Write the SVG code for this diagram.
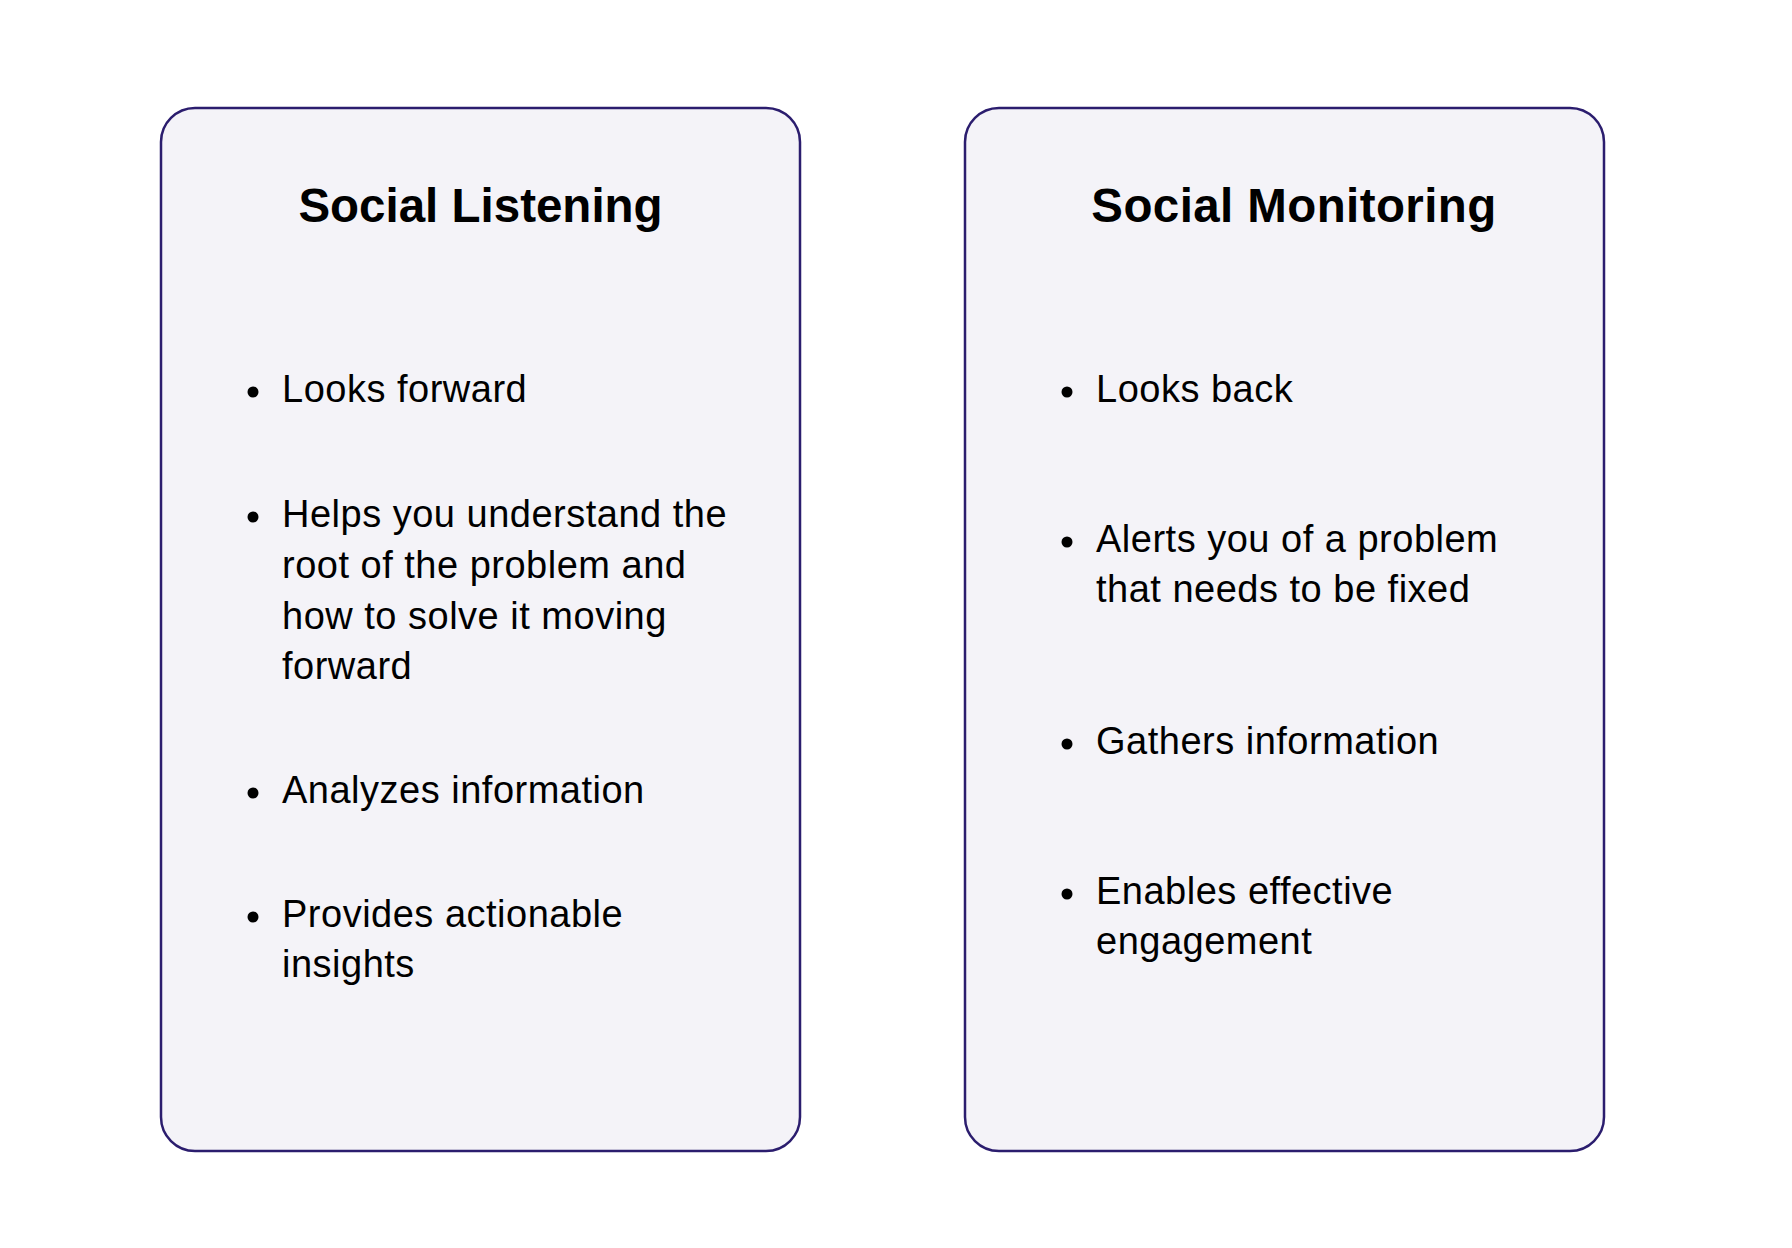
<svg xmlns="http://www.w3.org/2000/svg" width="1792" height="1248" viewBox="0 0 1792 1248">
<style>
.card{fill:#F4F3F8;stroke:#2B1D6E;stroke-width:2.5}
.title{font-family:"Liberation Sans",Arial,sans-serif;font-weight:bold;font-size:47.5px;fill:#000;text-anchor:middle}
.item{font-family:"Liberation Sans",Arial,sans-serif;font-size:38px;letter-spacing:0.5px;fill:#000}
.dot{fill:#000}
</style>
<rect width="1792" height="1248" fill="#FFFFFF"/>
<g id="listening">
<rect class="card" x="161" y="108" width="639" height="1043" rx="34" ry="34"/>
<text class="title" x="480.5" y="222">Social Listening</text>
<circle class="dot" cx="253" cy="392" r="5.5"/>
<text class="item" x="282" y="402">Looks forward</text>
<circle class="dot" cx="253" cy="517" r="5.5"/>
<text class="item" x="282" y="527">Helps you understand the</text>
<text class="item" x="282" y="578">root of the problem and</text>
<text class="item" x="282" y="629">how to solve it moving</text>
<text class="item" x="282" y="679">forward</text>
<circle class="dot" cx="253" cy="793" r="5.5"/>
<text class="item" x="282" y="803">Analyzes information</text>
<circle class="dot" cx="253" cy="917" r="5.5"/>
<text class="item" x="282" y="927">Provides actionable</text>
<text class="item" x="282" y="977">insights</text>
</g>
<g id="monitoring">
<rect class="card" x="965" y="108" width="639" height="1043" rx="34" ry="34"/>
<text class="title" x="1294" y="222" style="letter-spacing:0.4px">Social Monitoring</text>
<circle class="dot" cx="1067" cy="392" r="5.5"/>
<text class="item" x="1096" y="402">Looks back</text>
<circle class="dot" cx="1067" cy="542" r="5.5"/>
<text class="item" x="1096" y="552">Alerts you of a problem</text>
<text class="item" x="1096" y="602">that needs to be fixed</text>
<circle class="dot" cx="1067" cy="744" r="5.5"/>
<text class="item" x="1096" y="754">Gathers information</text>
<circle class="dot" cx="1067" cy="894" r="5.5"/>
<text class="item" x="1096" y="904">Enables effective</text>
<text class="item" x="1096" y="954">engagement</text>
</g>
<g id="connectors"></g>
</svg>
